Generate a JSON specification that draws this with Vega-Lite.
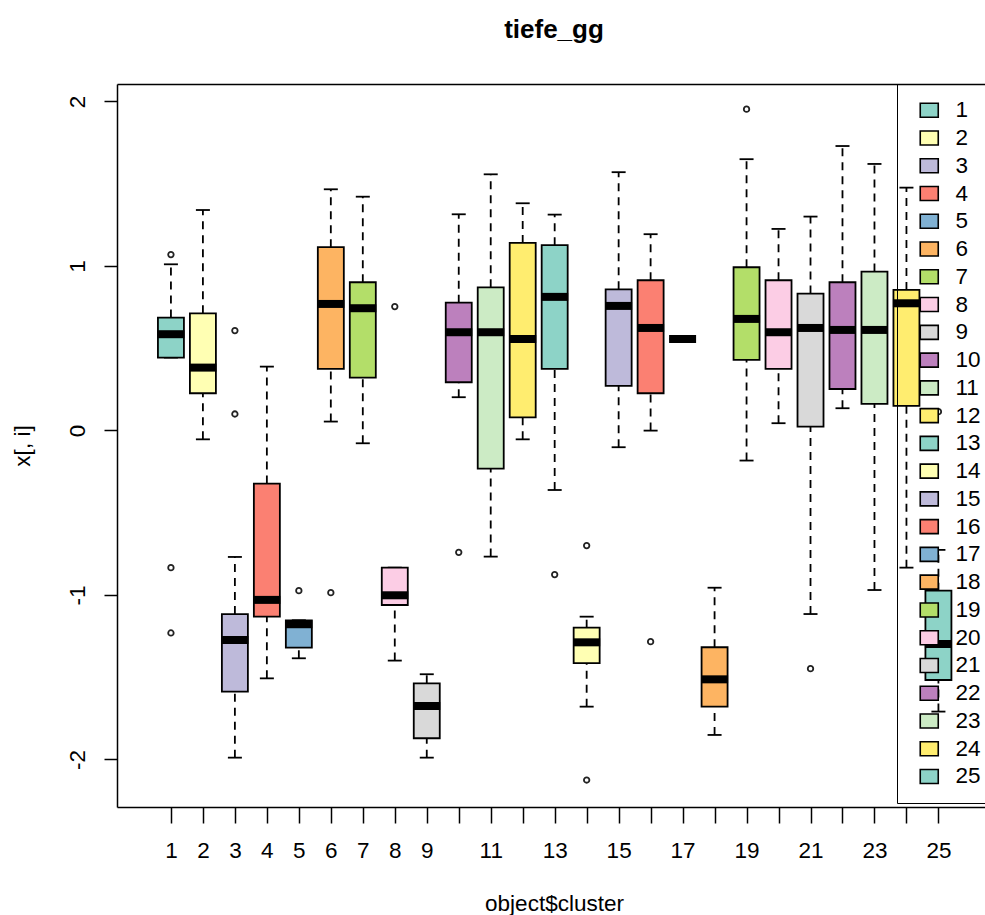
{
  "$schema": "https://vega.github.io/schema/vega-lite/v6.json",
  "autosize": {"type": "none"},
  "padding": {"left": 117, "top": 84, "right": 0, "bottom": 108},
  "width": 868,
  "height": 723,
  "background": "white",
  "config": {
    "font": "Liberation Sans",
    "view": {"stroke": null},
    "axis": {"grid": false}
  },
  "title": {
    "text": "tiefe_gg",
    "font": "Liberation Sans",
    "fontSize": 26,
    "fontWeight": "bold",
    "color": "black",
    "anchor": "middle",
    "frame": "group",
    "dx": 3,
    "baseline": "alphabetic",
    "offset": 20
  },
  "datasets": {
    "boxes": [
      {"cluster": 1, "lo": 0.443, "q1": 0.443, "med": 0.585, "q3": 0.686, "hi": 1.01},
      {"cluster": 2, "lo": -0.054, "q1": 0.226, "med": 0.382, "q3": 0.712, "hi": 1.34},
      {"cluster": 3, "lo": -1.989, "q1": -1.588, "med": -1.274, "q3": -1.116, "hi": -0.769},
      {"cluster": 4, "lo": -1.507, "q1": -1.132, "med": -1.03, "q3": -0.323, "hi": 0.388},
      {"cluster": 5, "lo": -1.385, "q1": -1.32, "med": -1.178, "q3": -1.154, "hi": -1.154},
      {"cluster": 6, "lo": 0.054, "q1": 0.374, "med": 0.769, "q3": 1.114, "hi": 1.466},
      {"cluster": 7, "lo": -0.078, "q1": 0.321, "med": 0.743, "q3": 0.901, "hi": 1.421},
      {"cluster": 8, "lo": -1.399, "q1": -1.061, "med": -1.002, "q3": -0.834, "hi": -0.834},
      {"cluster": 9, "lo": -1.989, "q1": -1.871, "med": -1.675, "q3": -1.537, "hi": -1.482},
      {"cluster": 10, "lo": 0.202, "q1": 0.293, "med": 0.597, "q3": 0.777, "hi": 1.314},
      {"cluster": 11, "lo": -0.767, "q1": -0.232, "med": 0.597, "q3": 0.87, "hi": 1.557},
      {"cluster": 12, "lo": -0.054, "q1": 0.08, "med": 0.556, "q3": 1.14, "hi": 1.381},
      {"cluster": 13, "lo": -0.362, "q1": 0.374, "med": 0.812, "q3": 1.126, "hi": 1.312},
      {"cluster": 14, "lo": -1.679, "q1": -1.415, "med": -1.288, "q3": -1.199, "hi": -1.132},
      {"cluster": 15, "lo": -0.102, "q1": 0.271, "med": 0.757, "q3": 0.858, "hi": 1.57},
      {"cluster": 16, "lo": -0.001, "q1": 0.226, "med": 0.623, "q3": 0.913, "hi": 1.193},
      {"cluster": 17, "lo": 0.556, "q1": 0.556, "med": 0.556, "q3": 0.556, "hi": 0.556},
      {"cluster": 18, "lo": -1.851, "q1": -1.679, "med": -1.513, "q3": -1.318, "hi": -0.956},
      {"cluster": 19, "lo": -0.183, "q1": 0.429, "med": 0.678, "q3": 0.992, "hi": 1.649},
      {"cluster": 20, "lo": 0.044, "q1": 0.374, "med": 0.597, "q3": 0.913, "hi": 1.225},
      {"cluster": 21, "lo": -1.116, "q1": 0.023, "med": 0.623, "q3": 0.832, "hi": 1.3},
      {"cluster": 22, "lo": 0.135, "q1": 0.252, "med": 0.611, "q3": 0.901, "hi": 1.729},
      {"cluster": 23, "lo": -0.97, "q1": 0.161, "med": 0.611, "q3": 0.966, "hi": 1.62},
      {"cluster": 24, "lo": -0.834, "q1": 0.149, "med": 0.773, "q3": 0.854, "hi": 1.476},
      {"cluster": 25, "lo": -1.709, "q1": -1.517, "med": -1.298, "q3": -0.974, "hi": -0.726}
    ],
    "outliers": [
      {"cluster": 1, "value": 1.069},
      {"cluster": 1, "value": -0.834},
      {"cluster": 1, "value": -1.231},
      {"cluster": 3, "value": 0.607},
      {"cluster": 3, "value": 0.1},
      {"cluster": 5, "value": -0.974},
      {"cluster": 6, "value": -0.986},
      {"cluster": 8, "value": 0.753},
      {"cluster": 10, "value": -0.741},
      {"cluster": 13, "value": -0.876},
      {"cluster": 14, "value": -0.7},
      {"cluster": 14, "value": -2.125},
      {"cluster": 16, "value": -1.284},
      {"cluster": 19, "value": 1.953},
      {"cluster": 21, "value": -1.448},
      {"cluster": 25, "value": 0.114}
    ]
  },
  "resolve": {"axis": {"x": "independent"}},
  "layer": [
    {
      "data": {"name": "boxes"},
      "mark": {"type": "rule", "color": "black", "opacity": 1, "strokeWidth": 1.8, "strokeDash": [8, 6]},
      "encoding": {
        "x": {"field": "cluster", "type": "quantitative", "scale": {"domain": [-0.53, 26.3], "nice": false, "zero": false},
          "axis": {
            "orient": "bottom",
            "values": [1,2,3,4,5,6,7,8,9,10,11,12,13,14,15,16,17,18,19,20,21,22,23,24,25],
            "labelExpr": "datum.value > 9 && datum.value % 2 == 0 ? '' : '' + datum.value",
            "domain": true, "domainColor": "black", "domainWidth": 1.5,
            "ticks": true, "tickColor": "black", "tickWidth": 1.5, "tickSize": 16,
            "labelFontSize": 22.5, "labelColor": "black", "labelBaseline": "alphabetic", "labelPadding": 34,
            "labelFlush": false, "labelOverlap": false, "labelAlign": "center",
            "title": "object$cluster", "titleFontSize": 22.5, "titleFontWeight": "normal", "titleColor": "black",
            "titleX": 437, "titleY": 103, "titleBaseline": "alphabetic", "titleAlign": "center"
          }},
        "y": {"field": "lo", "type": "quantitative", "scale": {"domain": [-2.289, 2.106], "nice": false, "zero": false},
          "axis": {
            "values": [-2, -1, 0, 1, 2],
            "labelExpr": "'' + datum.value",
            "domain": true, "domainColor": "black", "domainWidth": 1.5,
            "ticks": true, "tickColor": "black", "tickWidth": 1.5, "tickSize": 13,
            "labelFontSize": 22.5, "labelColor": "black", "labelAngle": -90, "labelAlign": "center",
            "labelBaseline": "alphabetic", "labelPadding": 20, "labelFlush": false, "labelOverlap": false,
            "title": "x[, i]", "titleFontSize": 22.5, "titleFontWeight": "normal", "titleColor": "black",
            "titleAngle": 270, "titleX": -88, "titleY": 361.5, "titleBaseline": "alphabetic", "titleAlign": "center"
          }},
        "y2": {"field": "q1"}
      }
    },
    {
      "data": {"name": "boxes"},
      "mark": {"type": "rule", "color": "black", "opacity": 1, "strokeWidth": 1.8, "strokeDash": [8, 6]},
      "encoding": {
        "x": {"field": "cluster", "type": "quantitative", "axis": null},
        "y": {"field": "q3", "type": "quantitative"},
        "y2": {"field": "hi"}
      }
    },
    {
      "data": {"name": "boxes"},
      "mark": {"type": "tick", "orient": "horizontal", "color": "black", "opacity": 1, "size": 14, "thickness": 1.8},
      "encoding": {
        "x": {"field": "cluster", "type": "quantitative", "axis": null},
        "y": {"field": "lo", "type": "quantitative"}
      }
    },
    {
      "data": {"name": "boxes"},
      "mark": {"type": "tick", "orient": "horizontal", "color": "black", "opacity": 1, "size": 14, "thickness": 1.8},
      "encoding": {
        "x": {"field": "cluster", "type": "quantitative", "axis": null},
        "y": {"field": "hi", "type": "quantitative"}
      }
    },
    {
      "data": {"name": "boxes"},
      "mark": {"type": "bar", "width": 26, "stroke": "black", "strokeWidth": 1.8, "opacity": 1},
      "encoding": {
        "x": {"field": "cluster", "type": "quantitative", "axis": null},
        "y": {"field": "q1", "type": "quantitative"},
        "y2": {"field": "q3"},
        "fill": {
          "field": "cluster", "type": "nominal",
          "scale": {
            "domain": [1,2,3,4,5,6,7,8,9,10,11,12,13,14,15,16,17,18,19,20,21,22,23,24,25],
            "range": ["#8DD3C7","#FFFFB3","#BEBADA","#FB8072","#80B1D3","#FDB462","#B3DE69","#FCCDE5","#D9D9D9","#BC80BD","#CCEBC5","#FFED6F",
                      "#8DD3C7","#FFFFB3","#BEBADA","#FB8072","#80B1D3","#FDB462","#B3DE69","#FCCDE5","#D9D9D9","#BC80BD","#CCEBC5","#FFED6F","#8DD3C7"]
          },
          "legend": {
            "orient": "none", "legendX": 780, "legendY": 0, "direction": "vertical",
            "title": null, "padding": 15, "strokeColor": "black", "fillColor": null,
            "symbolType": "M-1.286,-1L1.286,-1L1.286,1L-1.286,1Z", "symbolSize": 196,
            "symbolStrokeColor": "black", "symbolStrokeWidth": 1.6, "symbolOpacity": 1, "symbolOffset": 6,
            "labelFontSize": 22.5, "labelColor": "black", "labelOffset": 15, "labelBaseline": "middle",
            "labelExpr": "datum.label + '      '", "labelLimit": 400,
            "rowPadding": 4.76, "symbolLimit": 0
          }
        }
      }
    },
    {
      "data": {"name": "boxes"},
      "mark": {"type": "tick", "orient": "horizontal", "color": "black", "opacity": 1, "size": 27, "thickness": 8},
      "encoding": {
        "x": {"field": "cluster", "type": "quantitative", "axis": null},
        "y": {"field": "med", "type": "quantitative"}
      }
    },
    {
      "data": {"name": "outliers"},
      "mark": {"type": "point", "shape": "circle", "filled": false, "opacity": 1, "size": 30, "stroke": "#222222", "strokeWidth": 1.8},
      "encoding": {
        "x": {"field": "cluster", "type": "quantitative",
          "axis": {"orient": "top", "domain": true, "domainColor": "black", "domainWidth": 1.5, "ticks": false, "labels": false, "title": null}},
        "y": {"field": "value", "type": "quantitative"}
      }
    }
  ]
}
